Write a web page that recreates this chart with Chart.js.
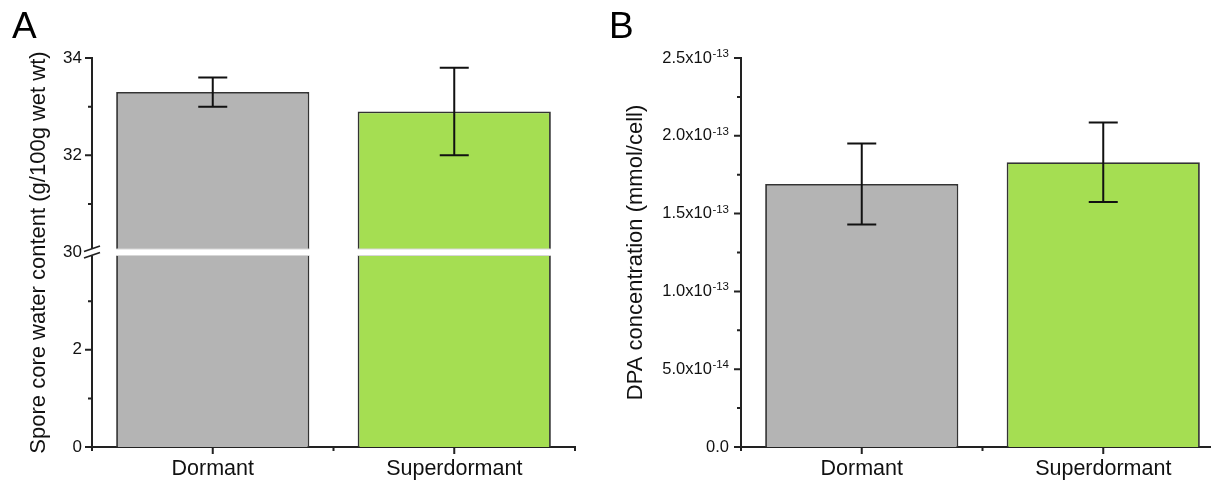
<!DOCTYPE html>
<html>
<head>
<meta charset="utf-8">
<script src="https://cdn.jsdelivr.net/npm/chart.js@4.4.1/dist/chart.umd.min.js"></script>
<style>
    html, body { margin: 0; padding: 0; background: #fff; overflow: hidden; width: 1211px; height: 480px; }
    .wrap { position: absolute; top: 0; height: 480px; }
    #wrapA { left: 0; width: 600px; }
    #wrapB { left: 600px; width: 640px; }
    .letter { position: absolute; font: 37px "Liberation Sans", Arial, sans-serif; line-height: 36px; color: #000; }
</style>
</head>
<body>
<div class="wrap" id="wrapA"><canvas id="chartA"></canvas></div>
<div class="wrap" id="wrapB"><canvas id="chartB"></canvas></div>
<div class="letter" style="left:12px; top:8px;">A</div>
<div class="letter" style="left:609px; top:8px;">B</div>
<script>
const categories = ['Dormant', 'Superdormant'];
const barColors = ['#b4b4b4', '#a5de52'];

// Panel A - broken axis: 0..4 then jumps to 30..34
const waterValues = [33.3, 32.9];
const waterErrors = [0.3, 0.9];
const waterMajorTicks = [0, 2, 30, 32, 34];
const waterMinorTicks = [1, 3, 31, 33];
const breakFrom = 4;
const breakTo = 30;

// Panel B
const dpaValues = [1.69e-13, 1.83e-13];
const dpaErrors = [0.26e-13, 0.255e-13];
const dpaMajorTicks = [0, 0.5e-13, 1.0e-13, 1.5e-13, 2.0e-13, 2.5e-13];
const dpaMinorTicks = [0.25e-13, 0.75e-13, 1.25e-13, 1.75e-13, 2.25e-13];
const dpaTickBase = ['0.0', '5.0x10', '1.0x10', '1.5x10', '2.0x10', '2.5x10'];
const dpaTickExp = ['', '-14', '-13', '-13', '-13', '-13'];

const FONT = '"Liberation Sans", Arial, sans-serif';
const INK = '#111';
const AXIS = '#222';
Chart.defaults.font.family = FONT;
Chart.defaults.color = INK;

function waterAxis(v) {
    return v <= breakFrom ? v : v - (breakTo - breakFrom);
}
function identity(v) { return v; }

function figurePlugin(cfg) {
    return {
        id: 'figure',
        afterDatasetsDraw(chart) {
            const ctx = chart.ctx;
            const y = chart.scales.y;
            const meta = chart.getDatasetMeta(0);
            ctx.save();
            // white gap across the bars at the axis break
            if (cfg.breakAt != null) {
                const yb = y.getPixelForValue(cfg.breakAt);
                meta.data.forEach(bar => {
                    const half = bar.width / 2 + 1;
                    ctx.fillStyle = '#fff';
                    ctx.fillRect(bar.x - half, yb - 3.5, half * 2, 6.5);
                    ctx.strokeStyle = '#d6d6d6';
                    ctx.lineWidth = 1;
                    ctx.beginPath();
                    ctx.moveTo(bar.x - half + 1, yb - 3.5); ctx.lineTo(bar.x + half - 1, yb - 3.5);
                    ctx.moveTo(bar.x - half + 1, yb + 3); ctx.lineTo(bar.x + half - 1, yb + 3);
                    ctx.stroke();
                });
            }
            // error bars
            ctx.strokeStyle = INK;
            ctx.lineWidth = 2;
            meta.data.forEach((bar, i) => {
                const v = cfg.values[i], e = cfg.errors[i];
                const yt = y.getPixelForValue(cfg.toAxis(v + e));
                const yl = y.getPixelForValue(cfg.toAxis(v - e));
                ctx.beginPath();
                ctx.moveTo(bar.x, yt); ctx.lineTo(bar.x, yl);
                ctx.moveTo(bar.x - 14.5, yt); ctx.lineTo(bar.x + 14.5, yt);
                ctx.moveTo(bar.x - 14.5, yl); ctx.lineTo(bar.x + 14.5, yl);
                ctx.stroke();
            });
            ctx.restore();
        },
        afterDraw(chart) {
            const ctx = chart.ctx;
            const {left, right, bottom} = chart.chartArea;
            const x = chart.scales.x;
            const y = chart.scales.y;
            ctx.save();
            ctx.strokeStyle = AXIS;
            ctx.lineWidth = 2;
            ctx.beginPath();
            // y ticks
            cfg.majors.forEach(v => {
                if (cfg.breakAt != null && v === breakTo) return;
                const py = y.getPixelForValue(cfg.toAxis(v));
                ctx.moveTo(left, py); ctx.lineTo(left - 7, py);
            });
            cfg.minors.forEach(v => {
                const py = y.getPixelForValue(cfg.toAxis(v));
                ctx.moveTo(left, py); ctx.lineTo(left - 4, py);
            });
            // x ticks
            const c0 = x.getPixelForValue(0), c1 = x.getPixelForValue(1);
            [c0, c1].forEach(px => { ctx.moveTo(px, bottom); ctx.lineTo(px, bottom + 7); });
            [left, (c0 + c1) / 2, right].forEach(px => { ctx.moveTo(px, bottom); ctx.lineTo(px, bottom + 4); });
            ctx.stroke();

            // axis break marks
            if (cfg.breakAt != null) {
                const yb = y.getPixelForValue(cfg.breakAt);
                ctx.fillStyle = '#fff';
                ctx.fillRect(left - 2, yb - 3.5, 4, 6.5);
                ctx.lineWidth = 1.8;
                ctx.beginPath();
                ctx.moveTo(left - 8, yb - 1); ctx.lineTo(left + 8, yb - 6.5);
                ctx.moveTo(left - 8, yb + 5.5); ctx.lineTo(left + 8, yb);
                ctx.stroke();
            }

            // tick labels with superscript exponents
            if (cfg.expLabels) {
                ctx.fillStyle = INK;
                cfg.majors.forEach((v, i) => {
                    const py = y.getPixelForValue(v);
                    const rightEdge = left - 12;
                    const exp = cfg.expLabels[i];
                    ctx.font = '11.5px ' + FONT;
                    const expW = exp ? ctx.measureText(exp).width : 0;
                    ctx.textAlign = 'right';
                    if (exp) {
                        ctx.textBaseline = 'alphabetic';
                        ctx.fillText(exp, rightEdge, py - 1);
                    }
                    ctx.font = '16.5px ' + FONT;
                    ctx.textBaseline = 'middle';
                    ctx.fillText(cfg.baseLabels[i], rightEdge - expW - (exp ? 0.5 : 0), py);
                });
            }
            ctx.restore();
        }
    };
}

function makeChart(id, opts) {
    return new Chart(document.getElementById(id), {
        type: 'bar',
        data: {
            labels: categories,
            datasets: [{
                data: opts.data,
                backgroundColor: barColors,
                borderColor: '#333',
                borderWidth: 1.8,
                barPercentage: 0.8,
                categoryPercentage: 1
            }]
        },
        options: {
            responsive: true,
            maintainAspectRatio: false,
            devicePixelRatio: 1,
            animation: false,
            layout: { padding: { left: 0, top: 58, right: opts.padRight, bottom: 0 } },
            plugins: { legend: { display: false }, tooltip: { enabled: false } },
            scales: {
                x: {
                    type: 'category',
                    offset: true,
                    grid: { display: false, drawTicks: false },
                    border: { display: true, color: AXIS, width: 2 },
                    ticks: { font: { size: 21.5 }, color: INK, padding: 9 },
                    afterFit: s => { s.height = 33; }
                },
                y: {
                    position: 'left',
                    min: opts.min,
                    max: opts.max,
                    grid: { display: false, drawTicks: false },
                    border: { display: true, color: AXIS, width: 2 },
                    afterBuildTicks: s => { s.ticks = opts.ticks.map(v => ({ value: v })); },
                    ticks: {
                        display: opts.showTicks,
                        autoSkip: false,
                        font: { size: 17 },
                        color: INK,
                        padding: 10,
                        callback: (v, i) => opts.tickLabels ? opts.tickLabels[i] : ''
                    },
                    title: {
                        display: true,
                        text: opts.title,
                        font: { size: 22 },
                        color: INK,
                        padding: { top: opts.titlePad, bottom: 0 }
                    },
                    afterFit: s => { s.width = opts.axisWidth; }
                }
            }
        },
        plugins: [opts.plugin]
    });
}

makeChart('chartA', {
    data: waterValues.map(waterAxis),
    min: 0,
    max: waterAxis(34),
    ticks: waterMajorTicks.map(waterAxis),
    tickLabels: waterMajorTicks.map(String),
    showTicks: true,
    title: 'Spore core water content (g/100g wet wt)',
    titlePad: 26,
    axisWidth: 92,
    padRight: 25,
    plugin: figurePlugin({
        values: waterValues, errors: waterErrors, toAxis: waterAxis,
        majors: waterMajorTicks, minors: waterMinorTicks, breakAt: breakFrom
    })
});

makeChart('chartB', {
    data: dpaValues,
    min: 0,
    max: 2.5e-13,
    ticks: dpaMajorTicks,
    tickLabels: null,
    showTicks: false,
    title: 'DPA concentration (mmol/cell)',
    titlePad: 23,
    axisWidth: 141,
    padRight: 16,
    plugin: figurePlugin({
        values: dpaValues, errors: dpaErrors, toAxis: identity,
        majors: dpaMajorTicks, minors: dpaMinorTicks, breakAt: null,
        baseLabels: dpaTickBase, expLabels: dpaTickExp
    })
});
</script>
</body>
</html>
